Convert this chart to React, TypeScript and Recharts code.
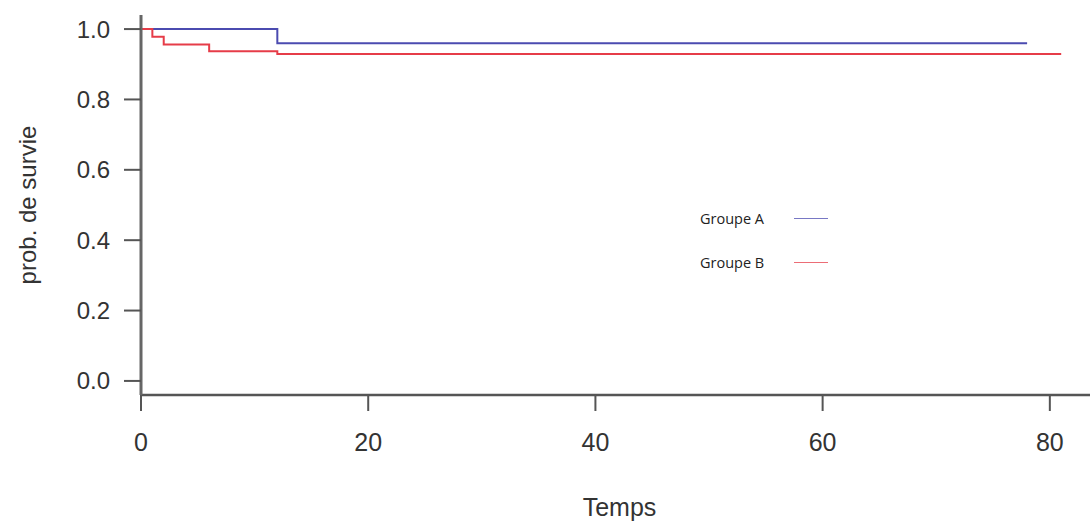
import React from 'react';
import { LineChart, Line, XAxis, YAxis, Legend, Label } from 'recharts';

// Kaplan-Meier steps (time, survival)
const groupATimes = [0, 12, 78];
const groupAValues = [1.0, 0.96, 0.96];
const groupBTimes = [0, 1, 2, 6, 12, 81];
const groupBValues = [1.0, 0.978, 0.956, 0.937, 0.929, 0.929];

const xTicks = [0, 20, 40, 60, 80];
const yTicks = [0, 0.2, 0.4, 0.6, 0.8, 1.0];

const groupA = groupATimes.map((t, i) => ({ time: t, surv: groupAValues[i] }));
const groupB = groupBTimes.map((t, i) => ({ time: t, surv: groupBValues[i] }));

const axisFont = 'Liberation Sans, Arial, sans-serif';

const renderLegend = (props: any) => {
  const { payload } = props;
  return (
    <div style={{ fontFamily: '"Open Sans", sans-serif', fontSize: 14.5, color: '#222' }}>
      {payload.map((entry: any) => (
        <div key={entry.value} style={{ display: 'flex', alignItems: 'center', height: 44 }}>
          <span style={{ width: 94 }}>{entry.value}</span>
          <span style={{ width: 34, borderTop: `1.5px solid ${entry.color}`, opacity: 0.75 }} />
        </div>
      ))}
    </div>
  );
};

const App: React.FC = () => {
  return (
    <div
      style={{
        position: 'absolute',
        left: 0,
        top: 0,
        width: 1090,
        height: 525,
        overflow: 'hidden',
        background: '#fff',
      }}
    >
      <LineChart width={1098} height={525} margin={{ top: 15, right: 0, bottom: 0, left: 0 }}>
        <XAxis
          xAxisId="top"
          orientation="top"
          type="number"
          dataKey="time"
          domain={[0, 84.24]}
          height={0}
          tick={false}
          tickLine={false}
          axisLine={{ stroke: '#999', strokeWidth: 3 }}
        />
        <XAxis
          type="number"
          dataKey="time"
          domain={[0, 84.24]}
          ticks={xTicks}
          allowDataOverflow
          height={130}
          tickSize={16}
          tickMargin={22}
          axisLine={{ stroke: '#555', strokeWidth: 2.5 }}
          tickLine={{ stroke: '#555', strokeWidth: 2 }}
          tick={{ fill: '#333', fontSize: 25, fontFamily: axisFont }}
        >
          <Label
            value="Temps"
            position="insideBottom"
            offset={9}
            style={{ fill: '#333', fontSize: 25, fontFamily: axisFont }}
          />
        </XAxis>
        <YAxis
          type="number"
          domain={[-0.04, 1.04]}
          ticks={yTicks}
          allowDataOverflow
          width={141}
          tickSize={17}
          tickMargin={14}
          tickFormatter={(v: number) => v.toFixed(1)}
          axisLine={{ stroke: '#666', strokeWidth: 3 }}
          tickLine={{ stroke: '#555', strokeWidth: 2 }}
          tick={{ fill: '#333', fontSize: 24, fontFamily: axisFont }}
        >
          <Label
            content={({ viewBox }: any) => {
              const cy = viewBox.y + viewBox.height / 2;
              return (
                <text
                  x={36}
                  y={cy}
                  transform={`rotate(-90, 36, ${cy})`}
                  textAnchor="middle"
                  fill="#333"
                  fontSize={24}
                  fontFamily={axisFont}
                >
                  prob. de survie
                </text>
              );
            }}
          />
        </YAxis>
        <Legend
          layout="vertical"
          align="center"
          verticalAlign="middle"
          content={renderLegend}
          wrapperStyle={{ left: 700, top: 196, width: 160 }}
        />
        <Line
          data={groupA}
          dataKey="surv"
          name="Groupe A"
          type="stepAfter"
          stroke="#4b4bb0"
          strokeWidth={2}
          dot={false}
          isAnimationActive={false}
        />
        <Line
          data={groupB}
          dataKey="surv"
          name="Groupe B"
          type="stepAfter"
          stroke="#e63c48"
          strokeWidth={2}
          dot={false}
          isAnimationActive={false}
        />
      </LineChart>
    </div>
  );
};

export default App;
